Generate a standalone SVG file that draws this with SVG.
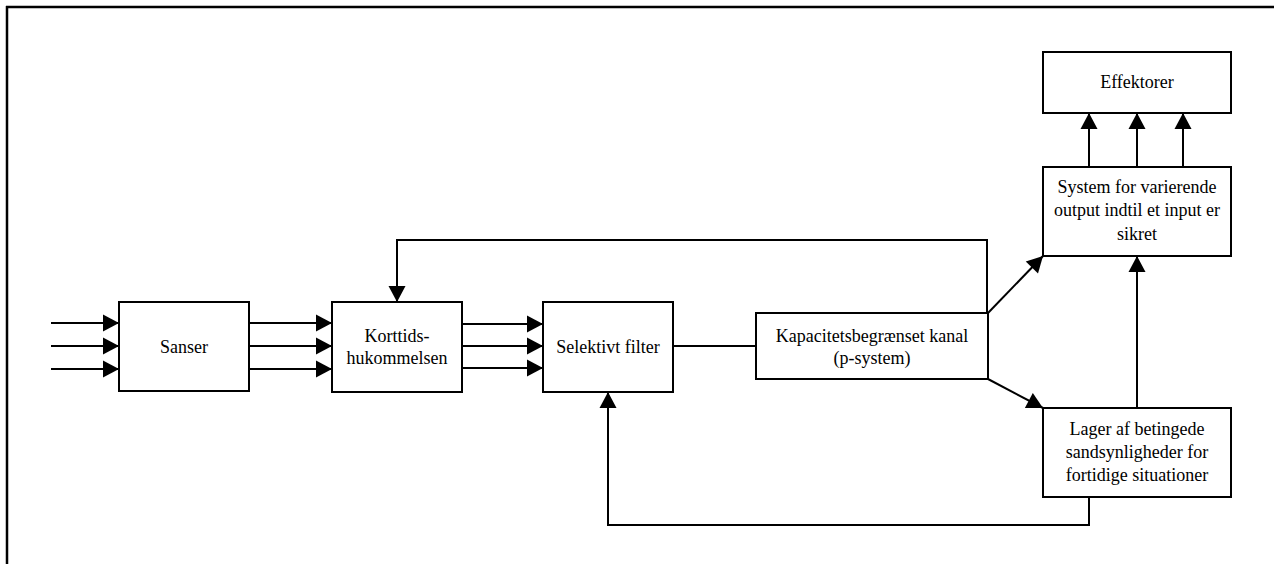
<svg xmlns="http://www.w3.org/2000/svg" width="1274" height="564" viewBox="0 0 1274 564">
  <style>
    .box { fill: #fff; stroke: #000; stroke-width: 2; }
    .wire { fill: none; stroke: #000; stroke-width: 2; }
    .lbl { font-family: 'Liberation Serif', Tinos, 'DejaVu Serif', serif; font-size: 18px; fill: #000; text-anchor: middle; }
  </style>
  <defs>
    <marker id="arrow" markerUnits="userSpaceOnUse" markerWidth="17" markerHeight="18" refX="16" refY="8.5" orient="auto" overflow="visible">
      <path d="M0,0 L16,8.5 L0,17 Z" fill="#000"/>
    </marker>
  </defs>

  <!-- page frame (top and left edges) -->
  <path d="M6,7 H1274 M7,6 V564" fill="none" stroke="#000" stroke-width="2.5"/>

  <g id="connectors">
    <!-- inputs to Sanser -->
    <line class="wire" x1="51" y1="323" x2="119" y2="323" marker-end="url(#arrow)"/>
    <line class="wire" x1="51" y1="346" x2="119" y2="346" marker-end="url(#arrow)"/>
    <line class="wire" x1="51" y1="369" x2="119" y2="369" marker-end="url(#arrow)"/>
    <!-- Sanser to Korttids-hukommelsen -->
    <line class="wire" x1="249" y1="323" x2="332" y2="323" marker-end="url(#arrow)"/>
    <line class="wire" x1="249" y1="346" x2="332" y2="346" marker-end="url(#arrow)"/>
    <line class="wire" x1="249" y1="369" x2="332" y2="369" marker-end="url(#arrow)"/>
    <!-- Korttids-hukommelsen to Selektivt filter -->
    <line class="wire" x1="462" y1="324" x2="543" y2="324" marker-end="url(#arrow)"/>
    <line class="wire" x1="462" y1="346" x2="543" y2="346" marker-end="url(#arrow)"/>
    <line class="wire" x1="462" y1="368" x2="543" y2="368" marker-end="url(#arrow)"/>
    <!-- Selektivt filter to kanal -->
    <line class="wire" x1="673" y1="346" x2="756" y2="346"/>
    <!-- feedback from kanal to Korttids-hukommelsen -->
    <polyline class="wire" points="987,313 987,240 397,240 397,302" marker-end="url(#arrow)"/>
    <!-- kanal to output system and store -->
    <line class="wire" x1="988" y1="313" x2="1043" y2="256" marker-end="url(#arrow)"/>
    <line class="wire" x1="988" y1="379" x2="1043" y2="408" marker-end="url(#arrow)"/>
    <!-- output system to Effektorer -->
    <line class="wire" x1="1089" y1="167" x2="1089" y2="113" marker-end="url(#arrow)"/>
    <line class="wire" x1="1137" y1="167" x2="1137" y2="113" marker-end="url(#arrow)"/>
    <line class="wire" x1="1183" y1="167" x2="1183" y2="113" marker-end="url(#arrow)"/>
    <!-- store to output system -->
    <line class="wire" x1="1137" y1="408" x2="1137" y2="256" marker-end="url(#arrow)"/>
    <!-- store back to Selektivt filter -->
    <polyline class="wire" points="1089,497 1089,525 608,525 608,392" marker-end="url(#arrow)"/>
  </g>

  <g id="sanser">
    <rect class="box" x="119" y="302" width="130" height="89"/>
    <text class="lbl" font-family="Liberation Serif, serif" x="184" y="353">Sanser</text>
  </g>

  <g id="korttids">
    <rect class="box" x="332" y="302" width="130" height="90"/>
    <text class="lbl" x="397" y="342">Korttids-</text>
    <text class="lbl" x="397" y="364">hukommelsen</text>
  </g>

  <g id="selektivt">
    <rect class="box" x="543" y="302" width="130" height="90"/>
    <text class="lbl" x="608" y="353">Selektivt filter</text>
  </g>

  <g id="kanal">
    <rect class="box" x="756" y="313" width="232" height="66"/>
    <text class="lbl" x="872" y="342">Kapacitetsbegrænset kanal</text>
    <text class="lbl" x="872" y="364">(p-system)</text>
  </g>

  <g id="effektorer">
    <rect class="box" x="1043" y="52" width="188" height="61"/>
    <text class="lbl" x="1137" y="88">Effektorer</text>
  </g>

  <g id="output-system">
    <rect class="box" x="1043" y="167" width="188" height="89"/>
    <text class="lbl" x="1137" y="193">System for varierende</text>
    <text class="lbl" x="1137" y="216">output indtil et input er</text>
    <text class="lbl" x="1137" y="240">sikret</text>
  </g>

  <g id="lager">
    <rect class="box" x="1043" y="408" width="188" height="89"/>
    <text class="lbl" x="1137" y="435">Lager af betingede</text>
    <text class="lbl" x="1137" y="458">sandsynligheder for</text>
    <text class="lbl" x="1137" y="481">fortidige situationer</text>
  </g>
</svg>
